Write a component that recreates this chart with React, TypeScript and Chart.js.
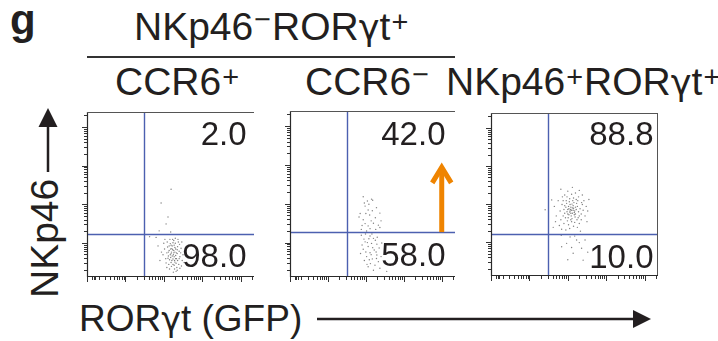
import React, { useEffect, useRef } from "react";
import { Chart, registerables } from "chart.js";

Chart.register(...registerables);

const FONT = '"Liberation Sans", Arial, Helvetica, sans-serif';
const GAMMA_FONT = '"DejaVu Sans", "Noto Sans", sans-serif';
const INK = "#231f20";

// ---------------- data ----------------
const quadrantUpper = ["2.0", "42.0", "88.8"];
const quadrantLower = ["98.0", "58.0", "10.0"];
const gateX = [1.49, 1.49, 1.49];
const gateY = [1.09, 1.13, 1.08];
const xRange = [0, 4.35];
const yRange = [0, 4.25];
const xMajorTicks = [0, 1, 2, 3, 4];
const yMajorTicks = [0.86, 1.86, 2.86, 3.86];
const decadeMinorOffsets = [0.301, 0.477, 0.602, 0.699, 0.778, 0.845, 0.903, 0.954];
const xDecadeStarts = [0, 1, 2, 3, 4];
const yDecadeStarts = [-0.14, 0.86, 1.86, 2.86, 3.86];
const xNearZeroTicks = [0.12, 0.17, 0.22];
// orange arrow in CCR6- panel: [x, yFrom, yTo]
const arrowCCR6neg = [4.0, 1.13, 2.94];

// cells: [RORgt (GFP), NKp46]
const cellsCCR6pos: number[][] = [
  [2.20,0.62],[2.25,0.55],[2.31,0.70],[2.18,0.48],[2.28,0.40],[2.35,0.58],[2.14,0.66],[2.22,0.78],
  [2.30,0.85],[2.26,0.92],[2.19,0.35],[2.33,0.45],[2.40,0.64],[2.12,0.52],[2.24,0.30],[2.36,0.76],
  [2.17,0.84],[2.29,0.62],[2.21,0.71],[2.27,0.50],[2.08,0.60],[2.42,0.50],[2.32,0.33],[2.15,0.42],
  [2.38,0.88],[2.23,0.95],[2.10,0.75],[2.45,0.72],[2.34,0.22],[2.20,0.25],[2.05,0.45],[2.28,0.18],
  [2.48,0.40],[2.02,0.70],[2.16,0.95],[2.39,0.30],[2.26,0.66],[2.31,0.53],[2.19,0.58],[2.24,0.44],
  [2.13,0.30],[2.44,0.60],[2.36,0.40],[2.09,0.88],[2.30,0.98],[1.98,0.55],[2.50,0.55],[2.27,0.80],
  [2.22,0.52],[2.18,0.70],[2.35,0.68],[2.12,0.62],[2.29,0.36],[2.41,0.82],[2.06,0.34],[2.32,0.12],
  [2.25,0.10],[2.46,0.26],[2.00,0.85],[1.94,0.62],[2.53,0.35],[2.15,0.18],[2.37,0.95],[2.21,0.40],
  [2.33,0.60],[2.27,0.28],[2.17,0.55],[2.40,0.45],[2.11,0.46],[2.24,0.86],[2.03,0.95],[2.47,0.88],
  [2.29,0.74],[2.19,0.80],[1.90,0.40],[1.85,0.78],[2.35,0.15],[2.42,0.20],[2.08,0.22],[2.56,0.65],
  [2.26,0.60],[2.23,0.68],[2.31,0.45],[2.14,0.78],
  [2.19,2.25],[1.93,1.89],[2.11,1.53],[2.06,1.35],[1.88,1.17],[2.18,1.14],[1.63,1.02],[1.80,1.00],
];

const cellsCCR6neg: number[][] = [
  [1.93,2.04],[2.04,1.93],[2.15,1.98],[2.18,1.95],[1.98,1.80],[2.28,1.76],[2.06,1.70],[1.85,1.61],
  [2.00,1.61],[2.10,1.57],[1.93,1.45],[2.37,1.62],[2.20,1.36],[1.90,1.30],[2.06,1.29],[2.33,1.31],
  [2.37,1.25],[2.11,1.22],[2.02,1.16],[1.82,1.52],[2.25,1.50],[1.96,1.88],[2.14,1.42],[2.40,1.42],
  [1.88,1.20],[2.17,1.68],[2.26,1.20],[1.98,1.35],[2.08,1.85],
  [1.88,1.05],[2.11,1.03],[2.20,0.97],[1.98,0.88],[2.15,0.84],[2.29,0.82],[2.06,0.76],[1.93,0.69],
  [2.22,0.67],[2.11,0.60],[2.29,0.54],[2.02,0.50],[2.17,0.44],[2.33,0.37],[2.06,0.24],[2.55,0.12],
  [2.37,0.20],[1.95,0.95],[2.25,0.92],[2.08,0.96],[1.90,0.80],[2.35,0.72],[2.00,0.62],[2.18,0.73],
  [2.27,0.62],[1.96,0.40],[2.12,0.32],[2.24,0.28],[2.40,0.50],[2.04,0.86],[2.14,0.55],[1.86,0.58],
  [2.30,1.00],[2.20,0.15],[2.09,0.42],[1.99,1.08],[2.42,0.85],[2.16,1.08],[2.28,0.45],[2.03,0.30],
];

const cellsNKp46pos: number[][] = [
  [2.10,1.70],[2.05,1.65],[2.15,1.75],[2.08,1.78],[2.12,1.62],[2.00,1.72],[2.18,1.68],[2.03,1.58],
  [2.14,1.82],[2.22,1.72],[1.98,1.66],[2.09,1.55],[2.06,1.85],[2.20,1.60],[2.16,1.90],[1.95,1.78],
  [2.25,1.80],[2.11,1.48],[2.01,1.50],[2.28,1.66],[1.92,1.62],[2.13,1.95],[2.04,1.92],[2.19,1.52],
  [2.07,1.72],[2.12,1.76],[2.17,1.64],[2.02,1.80],[1.97,1.88],[2.23,1.88],[2.10,1.40],[1.99,1.42],
  [2.30,1.55],[1.90,1.72],[2.26,1.95],[2.05,2.00],[2.15,2.02],[1.88,1.55],[2.32,1.74],[2.08,1.62],
  [2.14,1.70],[2.00,1.60],[2.20,1.78],[2.06,1.68],[1.94,1.50],[2.24,1.45],[2.11,1.86],[2.03,1.74],
  [2.17,1.58],[1.96,1.95],
  [1.85,1.85],[1.82,1.45],[2.35,1.60],[2.38,1.85],[1.86,2.05],[2.28,2.05],[2.40,1.70],[1.80,1.68],
  [2.10,2.12],[1.92,2.10],[2.20,2.15],[2.45,1.55],[1.78,1.30],[2.02,1.32],[2.30,1.35],[2.15,1.28],
  [1.90,1.35],[2.42,1.95],[2.35,1.45],[1.75,1.95],[2.48,1.80],[2.05,1.22],[2.25,1.25],[1.84,1.20],
  [2.38,2.10],[1.82,2.25],[2.00,2.20],[2.30,2.22],[1.70,1.55],[2.52,1.68],[1.58,1.97],[1.41,1.71],
  [1.65,1.80],[1.68,1.40],[2.50,1.40],[2.12,2.30],[1.95,1.18],[2.33,1.15],[2.55,1.98],[1.62,1.25],
  [2.18,1.38],[1.88,1.95],[2.27,1.50],[1.98,2.05],[2.08,1.45],[2.22,1.98],[1.92,1.82],[2.36,1.90],
  [1.83,1.04],[2.06,1.00],[2.23,0.92],[1.97,0.83],[2.45,0.92],[2.36,0.70],[2.00,0.40],[2.40,0.39],
  [2.14,0.57],[1.84,0.74],[2.18,1.02],[2.30,0.85],[2.10,0.72],[2.52,0.60],
];

const panelCells = [cellsCCR6pos, cellsCCR6neg, cellsNKp46pos];

// ---------------- layout ----------------
const boxes = [
  { left: 87, top: 112, w: 167, h: 164, rightEdge: false },
  { left: 290, top: 111, w: 165, h: 165, rightEdge: false },
  { left: 491, top: 113, w: 167, h: 162, rightEdge: true },
];
const upperPos = [[246.5, 145], [445.5, 145], [653.5, 145]];
const lowerPos = [[246.5, 267], [445.5, 266], [653.5, 268]];
const PAD_L = 10, PAD_T = 4, PAD_R = 4, PAD_B = 10;

const xMinorTicks = xDecadeStarts
  .flatMap((d) => decadeMinorOffsets.map((o) => d + o))
  .filter((v) => v < xRange[1])
  .concat(xNearZeroTicks);
const yMinorTicks = yDecadeStarts
  .flatMap((d) => decadeMinorOffsets.map((o) => d + o))
  .filter((v) => v > 0 && v < yRange[1]);

const flowAxes = {
  id: "flowAxes",
  afterDatasetsDraw(chart: any, _args: any, opts: any) {
    const { ctx, chartArea: a, scales } = chart;
    const sx = scales.x, sy = scales.y;
    ctx.save();
    // gates
    ctx.strokeStyle = "#4c60b0";
    ctx.lineWidth = 1.4;
    const gx = Math.round(sx.getPixelForValue(opts.gateX)) + 0.5;
    const gy = Math.round(sy.getPixelForValue(opts.gateY)) + 0.5;
    ctx.beginPath();
    ctx.moveTo(gx, a.top);
    ctx.lineTo(gx, a.bottom);
    ctx.moveTo(a.left, gy);
    ctx.lineTo(a.right, gy);
    ctx.stroke();
    // frame
    ctx.strokeStyle = "#2a2a2a";
    ctx.lineWidth = 1.2;
    ctx.beginPath();
    ctx.moveTo(a.left + 0.5, a.top);
    ctx.lineTo(a.left + 0.5, a.bottom + 0.5);
    ctx.lineTo(a.right, a.bottom + 0.5);
    ctx.stroke();
    ctx.strokeStyle = "#555";
    ctx.lineWidth = 1;
    ctx.beginPath();
    ctx.moveTo(a.left, a.top + 0.5);
    ctx.lineTo(a.right, a.top + 0.5);
    if (opts.rightEdge) {
      ctx.moveTo(a.right - 0.5, a.top);
      ctx.lineTo(a.right - 0.5, a.bottom);
    }
    ctx.stroke();
    // ticks
    ctx.strokeStyle = "#333";
    ctx.lineWidth = 1;
    ctx.beginPath();
    const xt = (v: number, len: number) => {
      const p = Math.round(sx.getPixelForValue(v)) + 0.5;
      ctx.moveTo(p, a.bottom + 1);
      ctx.lineTo(p, a.bottom + 1 + len);
    };
    const yt = (v: number, len: number) => {
      const p = Math.round(sy.getPixelForValue(v)) + 0.5;
      ctx.moveTo(a.left, p);
      ctx.lineTo(a.left - len, p);
    };
    xMajorTicks.forEach((v) => xt(v, 5));
    xMinorTicks.forEach((v) => xt(v, 3));
    yMajorTicks.forEach((v) => yt(v, 5));
    yMinorTicks.forEach((v) => yt(v, 3));
    ctx.stroke();
    // orange arrow
    if (opts.arrow) {
      const [ax, y0, y1] = opts.arrow;
      const xs = sx.getPixelForValue(ax);
      const yb = sy.getPixelForValue(y0);
      const ytp = sy.getPixelForValue(y1);
      ctx.strokeStyle = "#ef8400";
      ctx.lineWidth = 5;
      ctx.lineJoin = "miter";
      ctx.lineCap = "butt";
      ctx.beginPath();
      ctx.moveTo(xs, yb);
      ctx.lineTo(xs, ytp + 6);
      ctx.stroke();
      ctx.beginPath();
      ctx.moveTo(xs - 9.5, ytp + 21);
      ctx.lineTo(xs, ytp + 5.5);
      ctx.lineTo(xs + 9.5, ytp + 21);
      ctx.stroke();
    }
    ctx.restore();
  },
};

function FlowPanel({ idx }: { idx: number }) {
  const ref = useRef<HTMLCanvasElement>(null);
  const box = boxes[idx];
  useEffect(() => {
    const chart = new Chart(ref.current as HTMLCanvasElement, {
      type: "scatter",
      data: {
        datasets: [
          {
            data: panelCells[idx].map(([x, y]) => ({ x, y })),
            pointRadius: 0.7,
            pointHoverRadius: 0,
            backgroundColor: "rgba(85,85,85,0.75)",
            borderWidth: 0,
          },
        ],
      },
      options: {
        responsive: false,
        animation: false,
        events: [],
        layout: { padding: { left: PAD_L, top: PAD_T, right: PAD_R, bottom: PAD_B } },
        plugins: {
          legend: { display: false },
          tooltip: { enabled: false },
          flowAxes: {
            gateX: gateX[idx],
            gateY: gateY[idx],
            rightEdge: box.rightEdge,
            arrow: idx === 1 ? arrowCCR6neg : null,
          },
        } as any,
        scales: {
          x: { type: "linear", min: xRange[0], max: xRange[1], display: false },
          y: { type: "linear", min: yRange[0], max: yRange[1], display: false },
        },
      },
      plugins: [flowAxes],
    });
    return () => chart.destroy();
  }, []);
  const W = box.w + PAD_L + PAD_R;
  const H = box.h + PAD_T + PAD_B;
  return (
    <canvas
      ref={ref}
      width={W}
      height={H}
      style={{ position: "absolute", left: box.left - PAD_L, top: box.top - PAD_T, width: W, height: H }}
    />
  );
}

function Sup({ ch, lift }: { ch: string; lift: number }) {
  return (
    <span style={{ fontSize: "0.74em", position: "relative", top: -lift, margin: "0 1px" }}>{ch}</span>
  );
}

function G() {
  return <span style={{ fontFamily: GAMMA_FONT, fontSize: "0.9em" }}>γ</span>;
}

function Label({ left, baseline, size, children, bold }: any) {
  return (
    <div
      style={{
        position: "absolute",
        left,
        top: baseline - 0.8465 * size,
        fontSize: size,
        lineHeight: 1,
        whiteSpace: "nowrap",
        fontFamily: FONT,
        fontWeight: bold ? "bold" : "normal",
        color: INK,
      }}
    >
      {children}
    </div>
  );
}

function Num({ right, baseline, text }: { right: number; baseline: number; text: string }) {
  const size = 33;
  return (
    <div
      style={{
        position: "absolute",
        left: right,
        top: baseline - 0.8465 * size,
        transform: "translateX(-100%)",
        fontSize: size,
        lineHeight: 1,
        whiteSpace: "nowrap",
        fontFamily: FONT,
        color: INK,
      }}
    >
      {text}
    </div>
  );
}

export default function App() {
  const F = 39;
  return (
    <div
      style={{
        position: "absolute",
        left: 0,
        top: 0,
        width: 718,
        height: 341,
        overflow: "hidden",
        background: "#fff",
        fontFamily: FONT,
      }}
    >
      <Label left={10} baseline={35} size={42} bold>
        g
      </Label>
      <Label left={134} baseline={40} size={F}>
        NKp46<Sup ch="−" lift={11} />ROR<G />t<Sup ch="+" lift={8} />
      </Label>
      <div style={{ position: "absolute", left: 87, top: 56, width: 368, height: 2, background: "#333" }} />
      <Label left={115} baseline={95} size={F}>
        CCR6<Sup ch="+" lift={8} />
      </Label>
      <Label left={305} baseline={95} size={F}>
        CCR6<Sup ch="−" lift={11} />
      </Label>
      <Label left={446} baseline={95} size={F}>
        NKp46<Sup ch="+" lift={8} />ROR<G />t<Sup ch="+" lift={8} />
      </Label>

      {[0, 1, 2].map((i) => (
        <FlowPanel key={i} idx={i} />
      ))}
      {[0, 1, 2].map((i) => (
        <Num key={"u" + i} right={upperPos[i][0]} baseline={upperPos[i][1]} text={quadrantUpper[i]} />
      ))}
      {[0, 1, 2].map((i) => (
        <Num key={"l" + i} right={lowerPos[i][0]} baseline={lowerPos[i][1]} text={quadrantLower[i]} />
      ))}

      {/* y-axis title */}
      <div
        style={{
          position: "absolute",
          left: 25,
          top: 298,
          fontSize: F,
          lineHeight: 1,
          whiteSpace: "nowrap",
          fontFamily: FONT,
          color: INK,
          transform: "rotate(-90deg)",
          transformOrigin: "0 0",
        }}
      >
        NKp46
      </div>
      {/* x-axis title */}
      <Label left={79} baseline={331.7} size={37}>
        ROR<G />t (GFP)
      </Label>

      <svg width={718} height={341} style={{ position: "absolute", left: 0, top: 0, pointerEvents: "none" }}>
        <line x1={48} y1={172} x2={48} y2={124} stroke={INK} strokeWidth={2.5} />
        <polygon points="38.5,127 57.5,127 48,108" fill={INK} />
        <line x1={317} y1={319} x2={636} y2={319} stroke={INK} strokeWidth={2.5} />
        <polygon points="633,310 633,328 651,319" fill={INK} />
      </svg>
    </div>
  );
}
